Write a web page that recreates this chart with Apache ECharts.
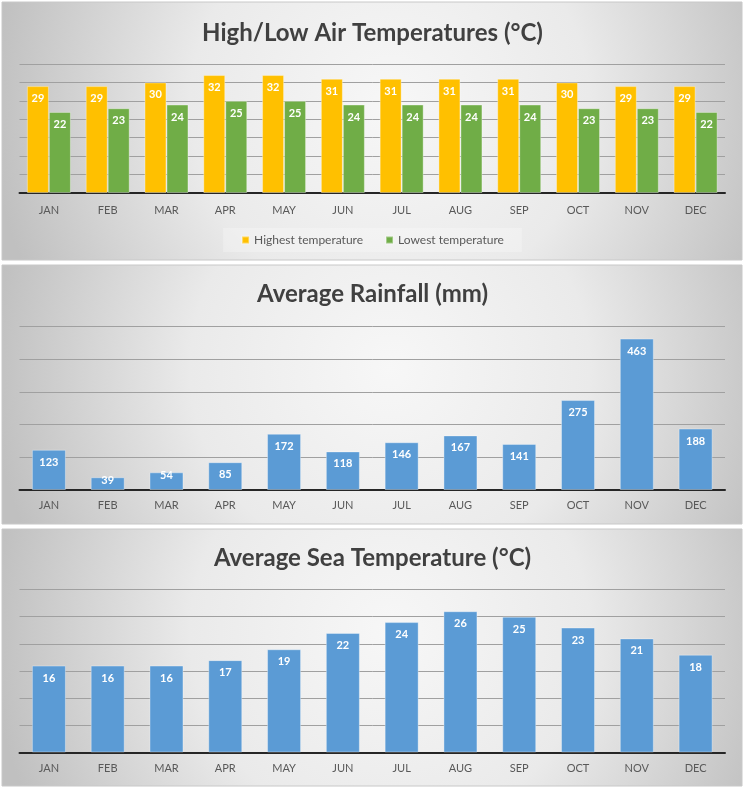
<!DOCTYPE html>
<html>
<head>
<meta charset="utf-8">
<script src="https://cdn.jsdelivr.net/npm/echarts@6/dist/echarts.min.js"></script>
<style>
html,body{margin:0;padding:0;background:#ffffff;}
#chart{width:745px;height:790px;}
</style>
</head>
<body>
<div id="chart"></div>
<script>
const months = ['JAN','FEB','MAR','APR','MAY','JUN','JUL','AUG','SEP','OCT','NOV','DEC'];
const highTemp = [29,29,30,32,32,31,31,31,31,30,29,29];
const lowTemp = [22,23,24,25,25,24,24,24,24,23,23,22];
const rainfall = [123,39,54,85,172,118,146,167,141,275,463,188];
const seaTemp = [16,16,16,17,19,22,24,26,25,23,21,18];
const titles = ['High/Low Air Temperatures (°C)','Average Rainfall (mm)','Average Sea Temperature (°C)'];
const seriesNames = ['Highest temperature','Lowest temperature'];
const airAxis = {max:35, interval:5};
const rainAxis = {max:500, interval:100};
const seaAxis = {max:30, interval:5};

const chart = echarts.init(document.getElementById('chart'), null, {renderer:'canvas'});
const FONT = 'Lato';
const panels = [
  {y:2, h:258},
  {y:265, h:259},
  {y:529, h:257}
];
function bg(p){
  return {
    type:'rect', z:-10, silent:true,
    shape:{x:2, y:p.y, width:740, height:p.h},
    style:{
      fill:{type:'radial', x:390, y:p.y+p.h*0.4, r:400, global:true,
        colorStops:[{offset:0,color:'#f7f7f7'},{offset:0.5,color:'#eaeaea'},{offset:1,color:'#c0c0c0'}]},
      stroke:'#c8c8c8', lineWidth:1
    }
  };
}
const grids = [
  {left:19.5, right:20, top:64, height:129},
  {left:19.5, right:20, top:326.5, height:163.5},
  {left:19.5, right:20, top:589.5, height:163}
];
function xAx(i, margin){
  return {
    type:'category', gridIndex:i, data:months,
    axisTick:{show:false},
    axisLine:{lineStyle:{color:'#262626', width:2}},
    axisLabel:{color:'#595959', fontFamily:FONT, fontSize:11, margin:margin}
  };
}
function yAx(i, cfg){
  return {
    type:'value', gridIndex:i, min:0, max:cfg.max, interval:cfg.interval,
    axisLabel:{show:false}, axisLine:{show:false}, axisTick:{show:false},
    splitLine:{lineStyle:{color:'#a0a0a0', width:1}}
  };
}
const lbl = {show:true, position:'insideTop', distance:7, color:'#ffffff', fontFamily:FONT, fontWeight:'bold', fontSize:11};
const barBorder = {borderColor:'rgba(255,255,255,0.35)', borderWidth:1};
function rainData(vals){
  return vals.map(v => v < 60 ? {value:v, label:{position:'top', distance:-9}} : v);
}
const option = {
  animation:false,
  backgroundColor:'#ffffff',
  graphic: panels.map(bg),
  title: titles.map((t,i)=>({
    text:t, left:'center', top:[16,277,541][i],
    textStyle:{fontFamily:FONT, fontWeight:'bold', fontSize:24, color:'#404040'}
  })),
  legend:{
    data:seriesNames, top:228, left:'center',
    itemWidth:7, itemHeight:7, itemGap:22, icon:'rect',
    padding:[6,18], backgroundColor:'rgba(255,255,255,0.25)',
    textStyle:{color:'#595959', fontFamily:FONT, fontSize:12}
  },
  grid: grids,
  xAxis:[xAx(0,12), xAx(1,10), xAx(2,10)],
  yAxis:[yAx(0,airAxis), yAx(1,rainAxis), yAx(2,seaAxis)],
  series:[
    {name:seriesNames[0], type:'bar', xAxisIndex:0, yAxisIndex:0, data:highTemp,
      barWidth:22, barGap:'0%', itemStyle:Object.assign({color:'#FFC000'},barBorder), label:lbl},
    {name:seriesNames[1], type:'bar', xAxisIndex:0, yAxisIndex:0, data:lowTemp,
      barWidth:22, barGap:'0%', itemStyle:Object.assign({color:'#70AD47'},barBorder), label:lbl},
    {name:'Average Rainfall', type:'bar', xAxisIndex:1, yAxisIndex:1, data:rainData(rainfall),
      barWidth:34, itemStyle:Object.assign({color:'#5B9BD5'},barBorder), label:lbl},
    {name:'Average Sea Temperature', type:'bar', xAxisIndex:2, yAxisIndex:2, data:seaTemp,
      barWidth:34, itemStyle:Object.assign({color:'#5B9BD5'},barBorder), label:lbl}
  ]
};
chart.setOption(option);
</script>
</body>
</html>
